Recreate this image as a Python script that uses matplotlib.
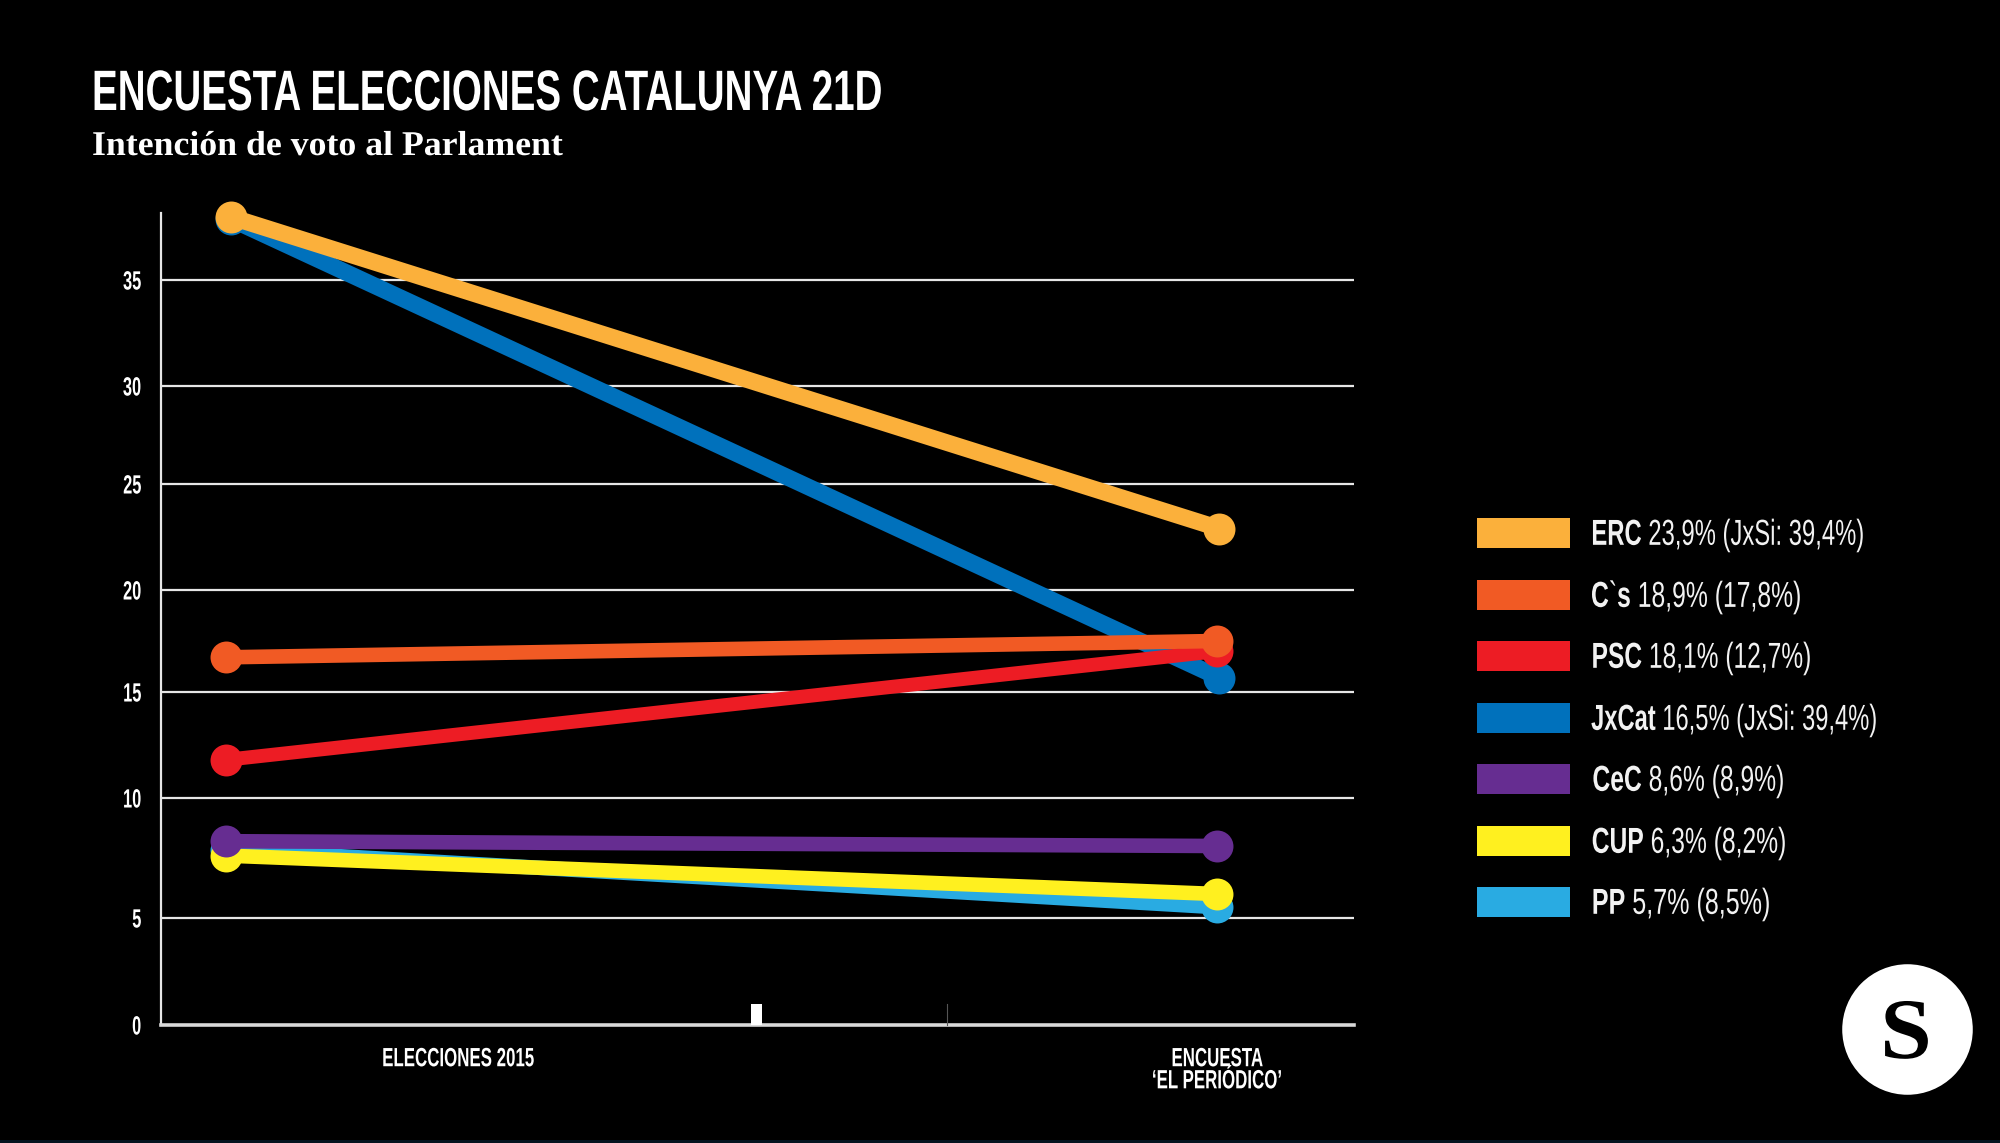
"""
Encuesta elecciones Catalunya 21D: 2015 results against the poll

"""

import numpy as np
import matplotlib.pyplot as plt
import matplotlib.patheffects as pe
from matplotlib.transforms import Affine2D


categories = ["ELECCIONES 2015", "ENCUESTA\n‘EL PERIÓDICO’"]
y_ticks = [0, 5, 10, 15, 20, 25, 30, 35]
y_pixels = [1025, 918, 798, 692, 590, 484, 386, 280] # the gridlines of the picture are not evenly spaced

# Drawing order, bottom first
parties = ["PP", "CUP", "CeC", "JxCat", "PSC", "C`s", "ERC"]
elections = [7.85, 7.6, 8.2, 37.9, 11.8, 16.7, 38.0]
poll = [5.45, 6.0, 8.0, 15.7, 17.0, 17.5, 22.9]
nudge = [0, 0, 0, 0.005, 0, 0, 0.005] # the dots are not quite on one vertical
colors = ["#29abe2", "#fff01f", "#662d91", "#0071bc", "#ed1c24", "#f15a24", "#fbb03b"]
widths = [10.5, 10.5, 10.5, 12, 10, 10.5, 12]

legend_names = ["ERC", "C`s", "PSC", "JxCat", "CeC", "CUP", "PP"]
legend_values = ["23,9% (JxSi: 39,4%)", "18,9% (17,8%)", "18,1% (12,7%)", "16,5% (JxSi: 39,4%)",
                 "8,6% (8,9%)", "6,3% (8,2%)", "5,7% (8,5%)"]
legend_colors = ["#fbb03b", "#f15a24", "#ed1c24", "#0071bc", "#662d91", "#fff01f", "#29abe2"]
legend_y = [533, 595, 656, 718, 779, 841, 902]
legend_end = [1865, 1802, 1812, 1878, 1785, 1787, 1771] # right end of each legend text
legend_squeeze = [0.66, 0.685, 0.68, 0.657, 0.683, 0.683, 0.695]

W, H = 2000, 1143
sans = "Liberation Sans"
plt.rcParams["mathtext.fontset"] = "custom"
plt.rcParams["mathtext.bf"] = "Liberation Sans:bold"
plt.rcParams["mathtext.rm"] = "Liberation Sans"
plt.rcParams["mathtext.default"] = "regular"


class Squeeze(pe.AbstractPathEffect):
    """Narrows a text, no condensed font is installed"""

    def __init__(self, sx, anchor="left"):
        super().__init__()
        self.sx = sx
        self.anchor = anchor

    def draw_path(self, renderer, gc, tpath, affine, rgbFace=None):
        box = tpath.get_extents()
        x0 = {"left": 0, "center": (box.x0 + box.x1)/2, "right": box.x1}[self.anchor]
        squeeze = Affine2D().translate(-x0, 0).scale(self.sx, 1).translate(x0, 0)
        renderer.draw_path(gc, tpath, squeeze + affine, rgbFace)


plt.figure(0, figsize=(W/100, H/100), dpi=100, facecolor="black")

# Chart area, placed by the pixels of the picture
plt.axes([161/W, 1 - 1025/H, (1354 - 161)/W, (1025 - 213)/H], facecolor="black")

y_top = 35 + (280 - 213)/21
def forward(v):
    return np.interp(v, y_ticks + [y_top], [1025 - p for p in y_pixels] + [812])

def inverse(p):
    return np.interp(p, [1025 - q for q in y_pixels] + [812], y_ticks + [y_top])

plt.yscale("function", functions=(forward, inverse))
plt.xlim(-65/991, 1128/991)
plt.ylim(0, y_top)

plt.hlines(y_ticks[1:], -65/991, 1128/991, color="#e6e6e6", linewidth=1.6, zorder=1)

for i in range(len(parties)):
    plt.plot([0 + nudge[i], 1 + nudge[i]/2], [elections[i], poll[i]], linestyle="-", color=colors[i],
             linewidth=widths[i], marker="o", markersize=23, markeredgewidth=0, clip_on=False, zorder=3 + i)

plt.yticks(y_ticks, [str(t) for t in y_ticks], color="white", family=sans, size=19, weight="bold")
plt.xticks([0.234, 1.0], categories, color="white", family=sans, size=19, weight="bold", linespacing=0.9)
plt.tick_params(axis="both", length=0)
plt.tick_params(axis="y", pad=14)
plt.tick_params(axis="x", pad=16)

ax = plt.gca()
for t in ax.get_yticklabels():
    t.set_path_effects([Squeeze(0.62, "right")])
for t in ax.get_xticklabels():
    t.set_path_effects([Squeeze(0.64, "center")])
for side in ["top", "right"]:
    ax.spines[side].set_visible(False)
ax.spines["left"].set_color("#e6e6e6")
ax.spines["left"].set_linewidth(1.6)
ax.spines["bottom"].set_color("#d9d9d9")
ax.spines["bottom"].set_linewidth(2.6)

# Overlay in picture pixels for the titles, the legend and the logo
plt.axes([0, 0, 1, 1], facecolor="none")
plt.xlim(0, W)
plt.ylim(H, 0)
plt.axis("off")

plt.text(92, 110, "ENCUESTA ELECCIONES CATALUNYA 21D", color="white", family=sans, size=41, weight="bold",
         va="baseline", path_effects=[Squeeze(0.677)])
plt.text(92, 155, "Intención de voto al Parlament", color="white", family="Liberation Serif", size=25, weight="bold",
         va="baseline", path_effects=[Squeeze(1.03)])

for i in range(len(legend_names)):
    plt.fill([1477, 1570, 1570, 1477], [legend_y[i] - 15, legend_y[i] - 15, legend_y[i] + 15, legend_y[i] + 15], color=legend_colors[i], linewidth=0)
    name = legend_names[i].replace("`", r"}$`$\mathbf{") # mathtext has no plain backtick
    plt.text(legend_end[i], legend_y[i] + 12, r"$\mathbf{" + name + "}$ " + legend_values[i], color="#f2f2f2", family=sans, size=26,
             ha="right", va="baseline", path_effects=[Squeeze(legend_squeeze[i], "right")])

plt.fill([751, 762, 762, 751], [1004, 1004, 1025, 1025], color="white", linewidth=0) # stray marks on the axis
plt.plot([947, 947], [1004, 1025], color="#555555", linewidth=0.8)

plt.plot([1907], [1029], "o", color="white", markersize=94, markeredgewidth=0)
plt.text(1906, 1058, "S", color="black", family="Liberation Serif", size=62, weight="bold", ha="center", va="baseline",
         path_effects=[Squeeze(1.08, "center")])
plt.fill([0, W, W, 0], [1140, 1140, H, H], color="#04131f", linewidth=0)

plt.xlim(0, W)
plt.ylim(H, 0)

plt.savefig("out.png", dpi=100, facecolor="black")
